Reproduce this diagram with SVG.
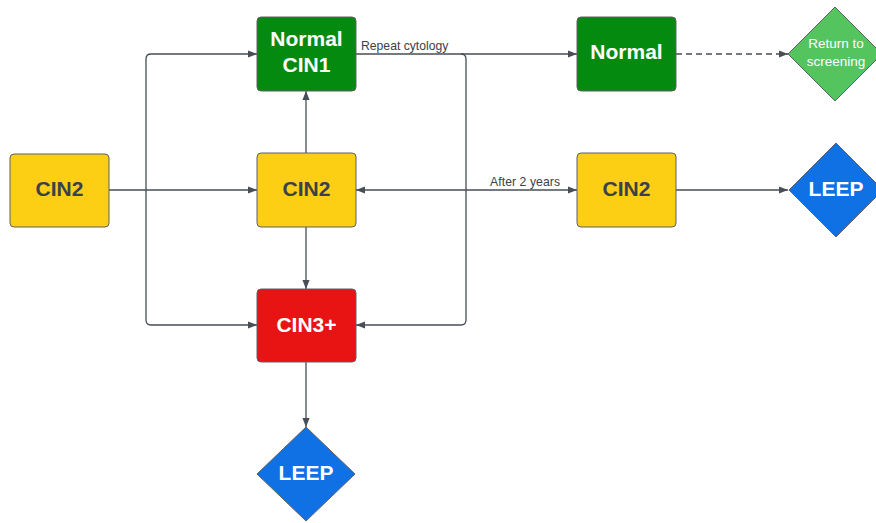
<svg xmlns="http://www.w3.org/2000/svg" width="876" height="523" viewBox="0 0 876 523">
<style>
.box{stroke:#5e6167;stroke-width:1}
.lbl{font-family:"Liberation Sans",Arial,sans-serif;font-weight:bold;font-size:21px;text-anchor:middle}
.w{fill:#ffffff}
.d{fill:#3a414a}
.edge{fill:none;stroke:#474e55;stroke-width:1.3}
.small{font-family:"Liberation Sans",Arial,sans-serif;font-size:12.2px;fill:#3a414a}
.ret{font-family:"Liberation Sans",Arial,sans-serif;font-size:13.5px;fill:#ffffff;text-anchor:middle}
</style>
<defs>
<marker id="ah" viewBox="0 0 10 10" refX="10" refY="5" markerWidth="9" markerHeight="9" markerUnits="userSpaceOnUse" orient="auto">
<path d="M0,1 L10,5 L0,9 z" fill="#474e55"/>
</marker>
</defs>
<rect width="876" height="523" fill="#ffffff"/>
<g id="connectors">
<path class="edge" d="M109,190 H257" marker-end="url(#ah)"/>
<path class="edge" d="M146,190 V59 Q146,54 151,54 H257" marker-end="url(#ah)"/>
<path class="edge" d="M146,190 V320 Q146,325 151,325 H257" marker-end="url(#ah)"/>
<path class="edge" d="M306,153 V91" marker-end="url(#ah)"/>
<path class="edge" d="M306,227 V289" marker-end="url(#ah)"/>
<path class="edge" d="M356,54 H577" marker-end="url(#ah)"/>
<path class="edge" d="M461,54 Q466,54 466,59 V320 Q466,325 461,325 H356" marker-end="url(#ah)"/>
<path class="edge" d="M466,190 H356" marker-end="url(#ah)"/>
<path class="edge" d="M466,190 H577" marker-end="url(#ah)"/>
<path class="edge" d="M676,54 H788" stroke-dasharray="6,4" marker-end="url(#ah)"/>
<path class="edge" d="M676,190 H788" marker-end="url(#ah)"/>
<path class="edge" d="M306,362 V427" marker-end="url(#ah)"/>
<text class="small" x="361" y="50">Repeat cytology</text>
<text class="small" x="490" y="186" textLength="70">After 2 years</text>
</g>
<g id="n-cin2-left">
<rect class="box" x="10" y="154" width="99" height="73" rx="4" fill="#fcce14"/>
<text class="lbl d" x="59.5" y="196">CIN2</text>
</g>
<g id="n-normal-cin1">
<rect class="box" x="257" y="17" width="99" height="74" rx="4" fill="#058a10"/>
<text class="lbl w" x="306.5" y="46">Normal</text>
<text class="lbl w" x="306.5" y="72">CIN1</text>
</g>
<g id="n-cin2-mid">
<rect class="box" x="257" y="153" width="99" height="74" rx="4" fill="#fcce14"/>
<text class="lbl d" x="306.5" y="196">CIN2</text>
</g>
<g id="n-cin3">
<rect class="box" x="257" y="289" width="99" height="73" rx="4" fill="#e81313"/>
<text class="lbl w" x="306.5" y="332">CIN3+</text>
</g>
<g id="n-leep-bottom">
<path class="box" d="M306,427 L355,474 L306,521 L257,474 Z" fill="#1071e5" stroke-linejoin="round"/>
<text class="lbl w" x="306" y="480">LEEP</text>
</g>
<g id="n-normal">
<rect class="box" x="577" y="17" width="99" height="74" rx="4" fill="#058a10"/>
<text class="lbl w" x="626.5" y="59">Normal</text>
</g>
<g id="n-cin2-right">
<rect class="box" x="577" y="153" width="99" height="74" rx="4" fill="#fcce14"/>
<text class="lbl d" x="626.5" y="196">CIN2</text>
</g>
<g id="n-return">
<path class="box" d="M835,7 L882,54 L835,101 L788,54 Z" fill="#54c45e" stroke-linejoin="round"/>
<text class="ret" x="836" y="48">Return to</text>
<text class="ret" x="836" y="66">screening</text>
</g>
<g id="n-leep-right">
<path class="box" d="M836,143 L883,190 L836,237 L789,190 Z" fill="#1071e5" stroke-linejoin="round"/>
<text class="lbl w" x="836" y="196">LEEP</text>
</g>
</svg>
